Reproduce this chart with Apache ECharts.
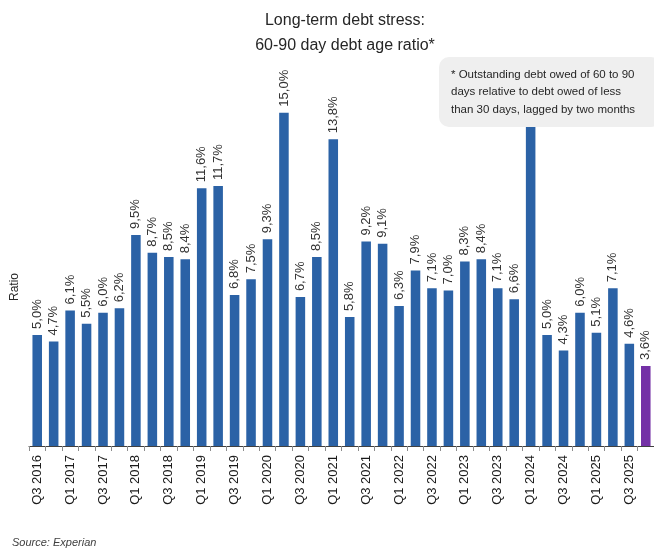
<!DOCTYPE html>
<html>
<head>
<meta charset="utf-8">
<script src="https://cdn.jsdelivr.net/npm/echarts@6/dist/echarts.min.js"></script>
<style>
  html, body { margin: 0; padding: 0; background: #ffffff; }
  #chart { width: 654px; height: 550px; }
</style>
</head>
<body>
<div id="chart"></div>
<script>
// Quarterly 60-90 day debt age ratio (%), Q3 2016 to Q4 2025
const quarters = [
  'Q3 2016', 'Q4 2016',
  'Q1 2017', 'Q2 2017', 'Q3 2017', 'Q4 2017',
  'Q1 2018', 'Q2 2018', 'Q3 2018', 'Q4 2018',
  'Q1 2019', 'Q2 2019', 'Q3 2019', 'Q4 2019',
  'Q1 2020', 'Q2 2020', 'Q3 2020', 'Q4 2020',
  'Q1 2021', 'Q2 2021', 'Q3 2021', 'Q4 2021',
  'Q1 2022', 'Q2 2022', 'Q3 2022', 'Q4 2022',
  'Q1 2023', 'Q2 2023', 'Q3 2023', 'Q4 2023',
  'Q1 2024', 'Q2 2024', 'Q3 2024', 'Q4 2024',
  'Q1 2025', 'Q2 2025', 'Q3 2025', 'Q4 2025'
];
const ratios = [
  5.0, 4.7,
  6.1, 5.5, 6.0, 6.2,
  9.5, 8.7, 8.5, 8.4,
  11.6, 11.7, 6.8, 7.5,
  9.3, 15.0, 6.7, 8.5,
  13.8, 5.8, 9.2, 9.1,
  6.3, 7.9, 7.1, 7.0,
  8.3, 8.4, 7.1, 6.6,
  15.5, 5.0, 4.3, 6.0,
  5.1, 7.1, 4.6, 3.6
];
const titleLines = ['Long-term debt stress:', '60-90 day debt age ratio*'];
const footnoteLines = [
  '* Outstanding debt owed of 60 to 90',
  'days relative to debt owed of less',
  'than 30 days, lagged by two months'
];
const sourceText = 'Source: Experian';
const axisName = 'Ratio';

const BLUE = '#2B62A6';
const PURPLE = '#7431A6';
const lastIdx = ratios.length - 1;

const chart = echarts.init(document.getElementById('chart'), null, { renderer: 'canvas' });

const fmt = v => v.toFixed(1).replace('.', ',') + '%';

chart.setOption({
  animation: false,
  backgroundColor: '#ffffff',
  grid: { left: 29, top: 46, width: 626, height: 400, containLabel: false },
  xAxis: {
    type: 'category',
    data: quarters,
    boundaryGap: true,
    axisLine: { lineStyle: { color: '#404040', width: 1 } },
    axisTick: { show: true, alignWithLabel: false, interval: 0, length: 5, lineStyle: { color: '#8c8c8c' } },
    axisLabel: {
      interval: 1,
      rotate: 90,
      margin: 9,
      color: '#1a1a1a',
      fontFamily: 'Liberation Sans, Arial, sans-serif',
      fontSize: 13
    }
  },
  yAxis: {
    type: 'value',
    min: 0,
    max: 18,
    show: false
  },
  series: [{
    type: 'bar',
    barCategoryGap: '42%',
    z: 2,
    data: ratios.map((v, i) => ({
      value: v,
      itemStyle: { color: i === lastIdx ? PURPLE : BLUE }
    })),
    label: {
      show: true,
      position: 'top',
      rotate: 90,
      align: 'left',
      verticalAlign: 'middle',
      distance: 6,
      color: '#333333',
      fontFamily: 'Liberation Sans, Arial, sans-serif',
      fontSize: 13,
      formatter: p => fmt(p.value)
    }
  }],
  graphic: [
    {
      type: 'text',
      style: {
        text: titleLines.join('\n'),
        x: 345, y: 8,
        fill: '#262626',
        font: '16px "Liberation Sans Narrow", "Liberation Sans", Arial, sans-serif',
        lineHeight: 25,
        align: 'center'
      },
      z: 10
    },
    {
      type: 'rect',
      shape: { x: 439, y: 57, width: 222, height: 70, r: 10 },
      style: { fill: '#EFEFEF' },
      z: 20
    },
    {
      type: 'text',
      style: {
        text: footnoteLines.join('\n'),
        x: 451, y: 66,
        fill: '#262626',
        font: '11.5px "Liberation Sans Narrow", "Liberation Sans", Arial, sans-serif',
        lineHeight: 17.5
      },
      z: 21
    },
    {
      type: 'text',
      rotation: Math.PI / 2,
      x: 15,
      y: 287,
      style: {
        text: axisName,
        fill: '#262626',
        font: '12px "Liberation Sans", Arial, sans-serif',
        align: 'center',
        verticalAlign: 'middle'
      },
      z: 10
    },
    {
      type: 'text',
      style: {
        text: sourceText,
        x: 12, y: 537,
        fill: '#404040',
        font: 'italic 11px "Liberation Sans", Arial, sans-serif'
      },
      z: 10
    }
  ]
});
</script>
</body>
</html>
